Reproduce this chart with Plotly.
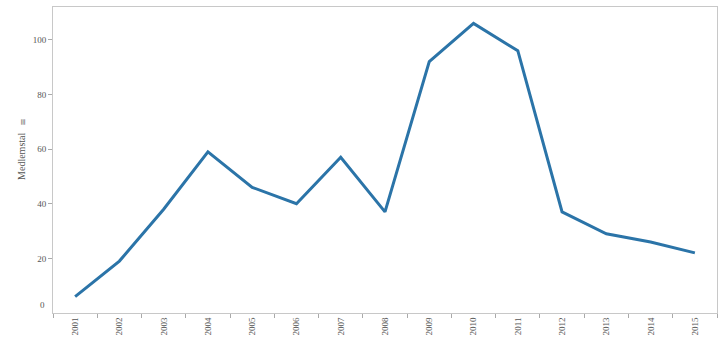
import plotly.graph_objects as go

years = [str(y) for y in range(2001, 2016)]
values = [6, 19, 38, 59, 46, 40, 57, 37, 92, 106, 96, 37, 29, 26, 22]
y_ticks = [0, 20, 40, 60, 80, 100]
y_title = "Medlemstal"

font_family = "Liberation Serif"
grey = "#555555"

fig = go.Figure()
fig.add_trace(go.Scatter(
    x=years, y=values, mode="lines",
    line=dict(color="#2b74a8", width=3),
    showlegend=False,
))

fig.update_layout(
    width=723, height=341,
    margin=dict(l=53, r=6, t=7, b=28),
    paper_bgcolor="white", plot_bgcolor="white",
    font=dict(family=font_family, size=9, color=grey),
)
fig.update_xaxes(
    type="category", tickson="boundaries", ticks="outside", ticklen=4,
    tickcolor="#aaaaaa", tickangle=-90, showgrid=False,
    showline=True, linecolor="#c8c8c8", linewidth=1, mirror=True,
    tickfont=dict(family=font_family, size=9, color=grey),
    range=[-0.5, len(years) - 0.5],
)
fig.update_yaxes(
    range=[0, 112], tickvals=y_ticks[1:], ticks="outside", ticklen=4,
    tickcolor="#aaaaaa", showgrid=False, zeroline=False,
    showline=True, linecolor="#c8c8c8", linewidth=1, mirror=True,
    tickfont=dict(family=font_family, size=9, color=grey),
)
# Zero label lifted above the bottom edge
fig.add_annotation(
    x=0, xref="paper", y=y_ticks[0], yref="y", text=str(y_ticks[0]),
    showarrow=False, xanchor="right", yanchor="bottom", xshift=-6, yshift=1,
    font=dict(family=font_family, size=9, color=grey),
)
# axis title
fig.add_annotation(
    x=0, xref="paper", xshift=-31, y=0.51, yref="paper",
    xanchor="center", yanchor="middle",
    text=y_title, textangle=-90, showarrow=False,
    font=dict(family=font_family, size=10, color=grey),
)
# small field icon above the axis title
fig.add_annotation(
    x=0, xref="paper", xshift=-30, y=0.625, yref="paper",
    xanchor="center", yanchor="middle",
    text="≡", textangle=-90, showarrow=False,
    font=dict(family="DejaVu Sans", size=9, color="#777777"),
)

fig.write_html("out.html")
